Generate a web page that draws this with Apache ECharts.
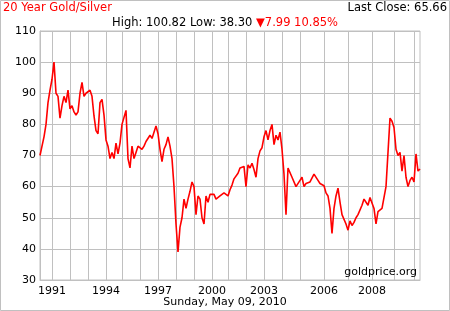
<!DOCTYPE html>
<html>
<head>
<meta charset="utf-8">
<script src="https://cdn.jsdelivr.net/npm/echarts@6/dist/echarts.min.js"></script>
<style>
html,body{margin:0;padding:0;background:#fff;}
#c{width:450px;height:311px;}
</style>
</head>
<body>
<div id="c"></div>
<script>
// Gold/Silver ratio, sampled evenly along the chart's (trading-day) x axis
const ratio = [
70,73,76,80,87,91,94.5,100,90,89,
82,86,89,87,91,85,86,84,83,84,
90,93.5,89,90,89.5,91,89,82.7,78,77,
87,88,83,75,73,69,71,69,74,70.5,
74,80,80,84.5,69,66,73,69,71,73,
72.5,72,73,74.5,75,76.5,75.5,77.5,79.5,77,
72,68,72,73.5,76,73,69,60,48,39,
47,50,56,53,56,58.5,61.5,60,51,57,
56,50,48,57,55,57.5,57,57.5,56,56.5,
57,56.5,58,57.5,57,59,60.5,62.5,62.5,64.3,
66,66,66.5,60,67,66,67.5,65.5,63,69,
71.5,72.5,76,78,75,78,80,73.5,76.5,75,
77.5,72,64,51,66,66,63,63,60,59.5,
62,63,60,61,61,61.5,61,64,64.5,62,
61,61,60.3,58,57,53,45,53,57,59.5,
55,51,51,48,46,49,47.5,48.5,50,51,
50.5,54,56,56,54,56.5,56.5,53,48,52,
52,53,52.5,60,71,82,81,79,72,70,
71,65,70,63,60,62,63,61.5,70.5,65,
65.66
];
// index of the first sample of each calendar year
const yearStartIndex = [6,15,24,33,41,50,59,68,77,86,94,103,112,121,130,142,154,166,177,187];
const yearNames = ['1991','1992','1993','1994','1995','1996','1997','1998','1999','2000',
                   '2001','2002','2003','2004','2005','2006','2007','2008','2009','2010'];
const labeledYears = ['1991','1994','1997','2000','2003','2006','2008'];
const yMin = 30, yMax = 110, yStep = 10;

const categories = ratio.map((_, i) => {
  let y = '1990';
  for (let k = 0; k < yearStartIndex.length; k++) {
    if (yearStartIndex[k] <= i) y = yearNames[k];
  }
  return y;
});
const startSet = new Set(yearStartIndex);

const FONT = 'DejaVu Sans';
const GRID = '#c0c0c0';
const TOPFONT = '11.5px "DejaVu Sans"';

const chart = echarts.init(document.getElementById('c'), null, {renderer: 'canvas'});
chart.setOption({
  animation: false,
  backgroundColor: '#fff',
  grid: {left: 40, right: 30, top: 31, bottom: 31, show: true, borderColor: GRID, borderWidth: 1, containLabel: false},
  xAxis: {
    type: 'category',
    data: categories,
    boundaryGap: false,
    axisLine: {show: true, lineStyle: {color: GRID, width: 1}},
    axisTick: {show: false},
    splitLine: {show: true, interval: (i) => startSet.has(i), lineStyle: {color: GRID, width: 1}},
    axisLabel: {
      interval: (i, v) => startSet.has(i) && labeledYears.includes(v),
      color: '#000', fontFamily: FONT, fontSize: 11, margin: 6
    }
  },
  yAxis: {
    type: 'value', min: yMin, max: yMax, interval: yStep,
    axisLine: {show: true, lineStyle: {color: GRID, width: 1}},
    axisTick: {show: false},
    splitLine: {show: true, lineStyle: {color: GRID, width: 1}},
    axisLabel: {color: '#000', fontFamily: FONT, fontSize: 11, margin: 4}
  },
  series: [{
    type: 'line',
    data: ratio,
    showSymbol: false,
    symbol: 'none',
    lineStyle: {color: '#ff0000', width: 1.6},
    z: 5
  }],
  graphic: [
    {type: 'rect', shape: {x: 0.5, y: 0.5, width: 449, height: 310}, style: {fill: 'none', stroke: GRID, lineWidth: 1}, silent: true},
    {type: 'text', left: 3, top: 2, style: {text: '20 Year Gold/Silver', fill: '#ff0000', font: TOPFONT}},
    {type: 'text', right: 3, top: 2, style: {text: 'Last Close: 65.66', fill: '#000', font: TOPFONT}},
    {type: 'text', left: 'center', top: 17, style: {
      text: '{b|High: 100.82 Low: 38.30 }{r|▼7.99 10.85%}',
      font: TOPFONT,
      rich: {b: {fill: '#000', font: TOPFONT}, r: {fill: '#ff0000', font: TOPFONT}}
    }},
    {type: 'text', right: 33, top: 267, z: 10, style: {text: 'goldprice.org', fill: '#000', font: '11px "DejaVu Sans"'}},
    {type: 'text', left: 'center', top: 297, style: {text: 'Sunday, May 09, 2010', fill: '#000', font: '11px "DejaVu Sans"'}}
  ]
});
</script>
</body>
</html>
